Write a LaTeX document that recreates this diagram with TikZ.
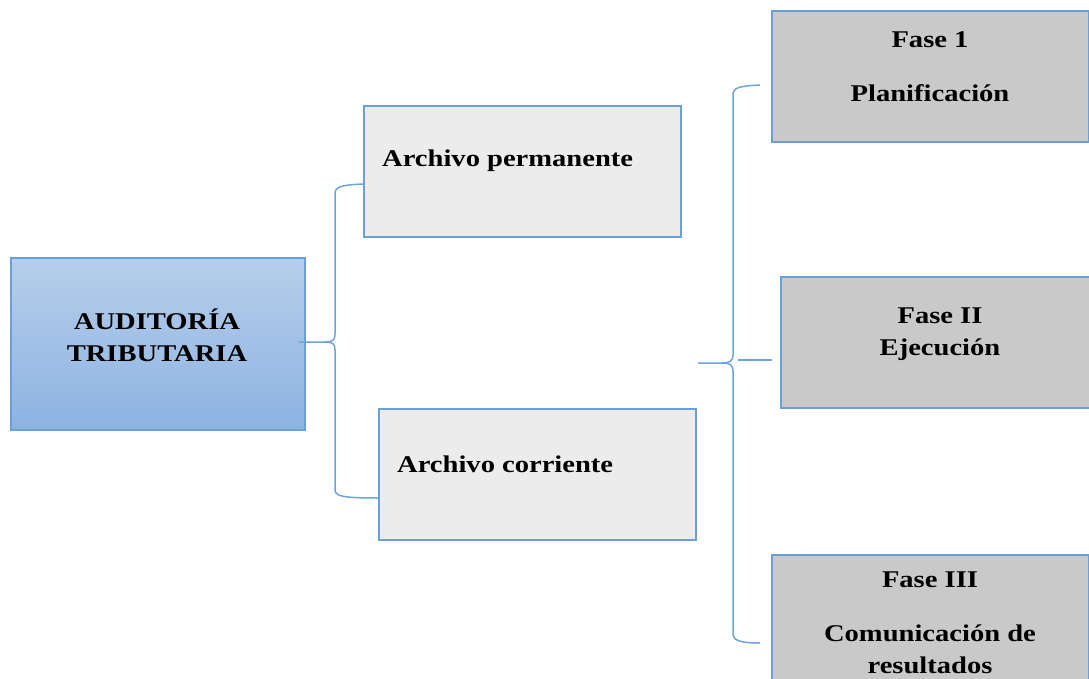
\documentclass[tikz,border=0pt]{standalone}
\usepackage{fontspec}
\setmainfont{Liberation Serif}[FakeStretch=1.19]
\definecolor{conn}{HTML}{6FA3DC}
\definecolor{bord}{HTML}{6A9FD8}
\definecolor{mtop}{HTML}{B6CEEA}
\definecolor{mbot}{HTML}{8DB3E2}
\definecolor{light}{HTML}{ECECEC}
\definecolor{fase}{HTML}{C9C9C9}
\begin{document}
\begin{tikzpicture}[x=1pt,y=-1pt,
  box/.style={draw=bord,line width=1.2pt,minimum width=317pt,minimum height=131pt,inner sep=0pt},
  lbox/.style={box,fill=light},
  fbox/.style={box,fill=fase},
  txt/.style={font=\fontsize{24}{32}\selectfont\bfseries,align=center,inner sep=0pt},
  conn/.style={draw=conn,line width=1.5pt}]
\useasboundingbox (0,0) rectangle (1089,679);
% boxes
\node[draw=bord,line width=1.2pt,top color=mtop,bottom color=mbot,minimum width=294pt,minimum height=172pt,inner sep=0pt] (main) at (158,344) {};
\node[lbox] (ap) at (522.5,171.5) {};
\node[lbox] (ac) at (537.5,474.5) {};
\node[fbox] (f1) at (930.5,76.5) {};
\node[fbox] (f2) at (939.5,342.5) {};
\node[fbox] (f3) at (930.5,620.5) {};
% texts
\node[txt] (tmain) at (157,335) {AUDITORÍA\\TRIBUTARIA};
\node[txt,anchor=west] (tap) at (382,161) {Archivo permanente};
\node[txt,anchor=west] (tac) at (397,464) {Archivo corriente};
\node[txt] (tf1a) at (930,40) {Fase 1};
\node[txt] (tf1b) at (930,93) {Planificación};
\node[txt] (tf2) at (940,334) {Fase II\\Ejecución};
\node[txt] (tf3a) at (930,580) {Fase III};
\node[txt] (tf3b) at (930,649) {Comunicación de\\resultados};
% brace 1
\coordinate (b1tip) at ([xshift=-7pt]main.east |- 0,342);
\coordinate (b1t) at (ap.west |- 0,184);
\coordinate (b1b) at (ac.west |- 0,498);
\draw[conn] (b1tip) -- (325,342) .. controls (333,342) and (335,340) .. (335,334) -- (335,194) .. controls (335,187) and (340,185) .. (b1t);
\draw[conn] (325,342) .. controls (333,342) and (335,344) .. (335,350) -- (335,489) .. controls (335,496) and (340,498) .. (b1b);
% brace 2
\coordinate (b2tip) at (698,363);
\coordinate (b2t) at (760,85);
\coordinate (b2b) at (760,643);
\coordinate (b2m) at (738,360);
\coordinate (b2me) at ([xshift=-8pt]f2.west |- 0,360);
\draw[conn] (b2tip) -- (722,363) .. controls (730,363) and (733,361) .. (733,355) -- (733,95) .. controls (733,88) and (738,86) .. (b2t);
\draw[conn] (722,363) .. controls (730,363) and (733,365) .. (733,371) -- (733,633) .. controls (733,640) and (738,643) .. (b2b);
\draw[conn,line width=1.2pt] (b2m) -- (b2me);
\end{tikzpicture}
\end{document}
